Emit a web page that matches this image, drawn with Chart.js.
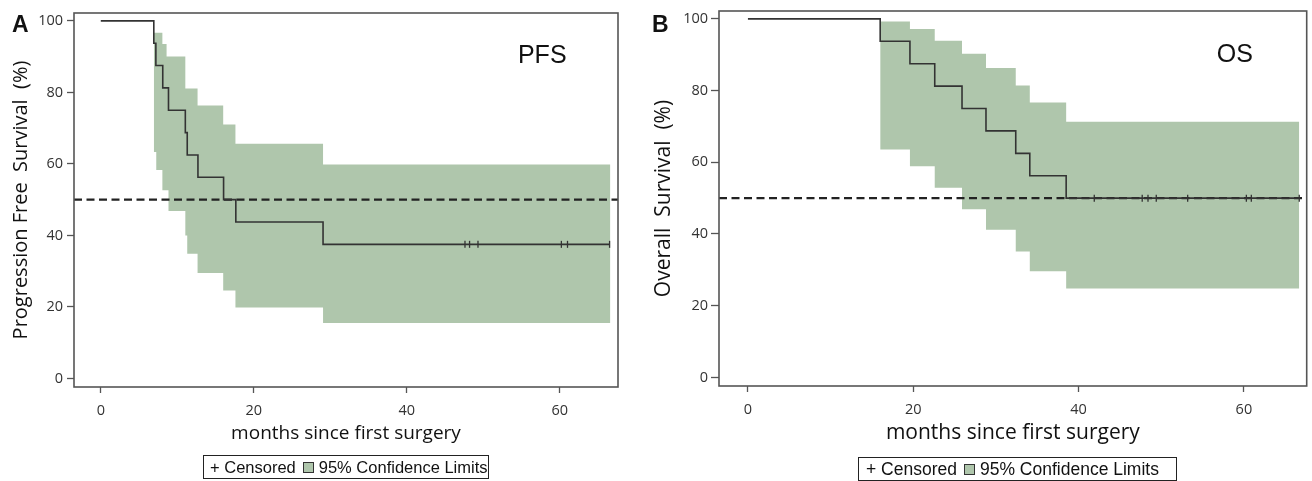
<!DOCTYPE html>
<html>
<head>
<meta charset="utf-8">
<script src="https://cdn.jsdelivr.net/npm/chart.js@4.4.1/dist/chart.umd.min.js"></script>
<style>
  body { margin: 0; width: 1312px; height: 481px; background: #fff; position: relative; overflow: hidden; }
  .panel { position: absolute; top: 0; height: 481px; }
  .legend { position: absolute; box-sizing: border-box; border: 1.5px solid #222; display: flex; align-items: center;
            font-family: "Liberation Sans", Arial, sans-serif; color: #111; white-space: pre; }
  .swatch { display: inline-block; width: 9px; height: 9px; background: #afc6ac; border: 1px solid #333; margin: 0 5px 0 7px; }
</style>
</head>
<body>
<div class="panel" style="left:0;width:640px"><canvas id="chartA"></canvas></div>
<div class="panel" style="left:640px;width:672px"><canvas id="chartB"></canvas></div>
<div class="legend" id="legendA" style="left:203px;top:455px;width:286px;height:24px;font-size:16.5px;padding-left:6px"></div>
<div class="legend" id="legendB" style="left:858px;top:457px;width:319px;height:24px;font-size:17.5px;padding-left:7px"></div>

<script>
// valores
const xTicks = [0, 20, 40, 60];
const yTicks = [0, 20, 40, 60, 80, 100];
const medianLevel = 50;
const censorLabel = 'Censored';
const bandLabel = '95% Confidence Limits';

// A - PFS
const pfsTimes = [0, 6.93, 7.2, 8.1, 8.85, 11.05, 11.3, 12.7, 16.05, 17.65, 29.05, 66.5];
const pfsSurv = [100, 93.75, 87.5, 81.25, 75, 68.75, 62.5, 56.25, 50, 43.75, 37.5, 37.5];
const pfsCensored = [47.6, 48.2, 49.3, 60.2, 61.0, 66.5];
const pfsBandTimes = [6.93, 7.25, 8.05, 8.6, 8.85, 11.05, 11.3, 12.65, 16.0, 17.6, 29.05, 66.6];
const pfsUpper = [96.7, 96.7, 93.5, 90, 90, 81.1, 81.1, 76.3, 71, 65.6, 59.8, 59.8];
const pfsLower = [63.3, 58.3, 52.6, 52.6, 46.8, 40, 34.9, 29.5, 24.6, 19.8, 15.5, 15.5];

// B - OS
const osTimes = [0, 16.0, 19.6, 22.6, 25.9, 28.8, 32.4, 34.1, 38.5, 66.7];
const osSurv = [100, 93.75, 87.5, 81.25, 75, 68.75, 62.5, 56.25, 50, 50];
const osCensored = [41.9, 47.7, 48.4, 49.4, 53.2, 60.3, 60.9, 66.7];
const osBandTimes = [16.0, 19.6, 22.6, 25.9, 28.8, 32.4, 34.1, 38.5, 66.7];
const osUpper = [99.3, 97.2, 93.9, 90.3, 86.3, 81.4, 76.7, 71.3, 71.3];
const osLower = [63.6, 58.9, 52.9, 46.9, 41.2, 35.1, 29.6, 24.8, 24.8];

const xMin = -3.5, xMax = 67.6;
const yMin = -2.4, yMax = 102.2;

Chart.defaults.font.family = '"Open Sans", sans-serif';
Chart.defaults.color = '#333';

// valor da curva no tempo t (degrau)
function survAt(times, surv, t) {
    let v = surv[0];
    for (let i = 0; i < times.length; i++) {
        if (times[i] <= t) v = surv[i];
    }
    return v;
}

function pts(xs, ys) {
    return xs.map((x, i) => ({ x: x, y: ys[i] }));
}

// moldura do grafico
const framePlugin = {
    id: 'frame',
    afterDatasetsDraw(chart) {
        const { ctx, chartArea } = chart;
        ctx.save();
        ctx.strokeStyle = '#555';
        ctx.lineWidth = 1.6;
        ctx.strokeRect(chartArea.left, chartArea.top, chartArea.right - chartArea.left, chartArea.bottom - chartArea.top);
        ctx.restore();
    }
};

// letra do painel e texto PFS / OS
const notesPlugin = {
    id: 'notes',
    afterDraw(chart, args, opts) {
        const ctx = chart.ctx;
        ctx.save();
        ctx.fillStyle = '#111';
        ctx.font = 'bold 23px "Liberation Sans"';
        ctx.fillText(opts.letter, opts.letterX, 32);
        ctx.font = '25px "Liberation Sans"';
        ctx.textAlign = 'center';
        ctx.fillText(opts.note, chart.scales.x.getPixelForValue(opts.noteX), chart.scales.y.getPixelForValue(opts.noteY));
        ctx.restore();
    }
};

function makeChart(id, d) {
    const ctx = document.getElementById(id).getContext('2d');
    return new Chart(ctx, {
        type: 'line',
        data: {
            datasets: [
                {
                    label: censorLabel,
                    data: d.censored.map(t => ({ x: t, y: survAt(d.times, d.surv, t) })),
                    showLine: false,
                    pointStyle: 'line',
                    rotation: 90,
                    pointRadius: 3.5,
                    borderColor: '#333',
                    pointBorderWidth: 1.3
                },
                {
                    label: 'KM',
                    data: pts(d.times, d.surv),
                    stepped: true,
                    borderColor: '#333',
                    borderWidth: 1.6,
                    pointRadius: 0
                },
                {
                    label: 'median',
                    data: [{ x: xMin, y: medianLevel }, { x: xMax, y: medianLevel }],
                    borderColor: '#222',
                    borderWidth: 2.2,
                    borderDash: [8, 4.5],
                    pointRadius: 0
                },
                {
                    label: bandLabel,
                    data: pts(d.bandTimes, d.upper),
                    stepped: true,
                    borderWidth: 0,
                    pointRadius: 0,
                    backgroundColor: '#afc6ac',
                    fill: '+1'
                },
                {
                    label: 'lower',
                    data: pts(d.bandTimes, d.lower),
                    stepped: true,
                    borderWidth: 0,
                    pointRadius: 0,
                    fill: false
                }
            ]
        },
        options: {
            responsive: true,
            maintainAspectRatio: false,
            animation: false,
            events: [],
            layout: { padding: d.padding },
            plugins: {
                legend: { display: false },
                tooltip: { enabled: false },
                notes: { letter: d.letter, letterX: d.letterX, note: d.note, noteX: d.noteX, noteY: d.noteY }
            },
            scales: {
                x: {
                    type: 'linear',
                    min: xMin,
                    max: xMax,
                    afterBuildTicks: s => { s.ticks = xTicks.map(v => ({ value: v })); },
                    afterFit: s => { s.height = d.xAxisHeight; s.paddingLeft = 0; s.paddingRight = 0; },
                    border: { display: false },
                    grid: { drawOnChartArea: false, drawTicks: true, tickLength: 6, tickColor: '#555', tickWidth: 1.3 },
                    ticks: { padding: 9, font: { size: 14.5 }, color: '#333' },
                    title: {
                        display: true,
                        text: 'months since first surgery',
                        color: '#111',
                        font: { size: d.xTitleSize },
                        padding: { top: 0, bottom: d.xTitlePad }
                    }
                },
                y: {
                    min: yMin,
                    max: yMax,
                    afterBuildTicks: s => { s.ticks = yTicks.map(v => ({ value: v })); },
                    afterFit: s => { s.width = d.yAxisWidth; s.paddingTop = 0; s.paddingBottom = 0; },
                    border: { display: false },
                    grid: { drawOnChartArea: false, drawTicks: true, tickLength: d.yTickLen, tickColor: '#555', tickWidth: 1.3 },
                    ticks: { padding: d.yTickPad, font: { size: 14.5 }, color: '#333' },
                    title: {
                        display: true,
                        text: d.yTitle,
                        color: '#111',
                        font: { size: d.yTitleSize },
                        padding: { top: d.yTitlePad, bottom: 0 }
                    }
                }
            }
        },
        plugins: [framePlugin, notesPlugin]
    });
}

makeChart('chartA', {
    times: pfsTimes, surv: pfsSurv, censored: pfsCensored,
    bandTimes: pfsBandTimes, upper: pfsUpper, lower: pfsLower,
    padding: { left: 0, top: 13, right: 22, bottom: 0 },
    xAxisHeight: 94, yAxisWidth: 74, yTickLen: 7, yTickPad: 4,
    xTitleSize: 19, xTitlePad: 36.5,
    yTitle: 'Progression Free  Survival  (%)', yTitleSize: 20, yTitlePad: 9.5,
    letter: 'A', letterX: 12, note: 'PFS', noteX: 57.7, noteY: 88.2
});

makeChart('chartB', {
    times: osTimes, surv: osSurv, censored: osCensored,
    bandTimes: osBandTimes, upper: osUpper, lower: osLower,
    padding: { left: 0, top: 11, right: 4, bottom: 0 },
    xAxisHeight: 95, yAxisWidth: 79, yTickLen: 8, yTickPad: 3,
    xTitleSize: 21, xTitlePad: 35.4,
    yTitle: 'Overall  Survival  (%)', yTitleSize: 21, yTitlePad: 11.4,
    letter: 'B', letterX: 12, note: 'OS', noteX: 58.9, noteY: 88.0
});

// legenda em HTML com moldura
['legendA', 'legendB'].forEach(id => {
    document.getElementById(id).innerHTML = '+ ' + censorLabel + '<span class="swatch"></span>' + bandLabel;
});
</script>
</body>
</html>
